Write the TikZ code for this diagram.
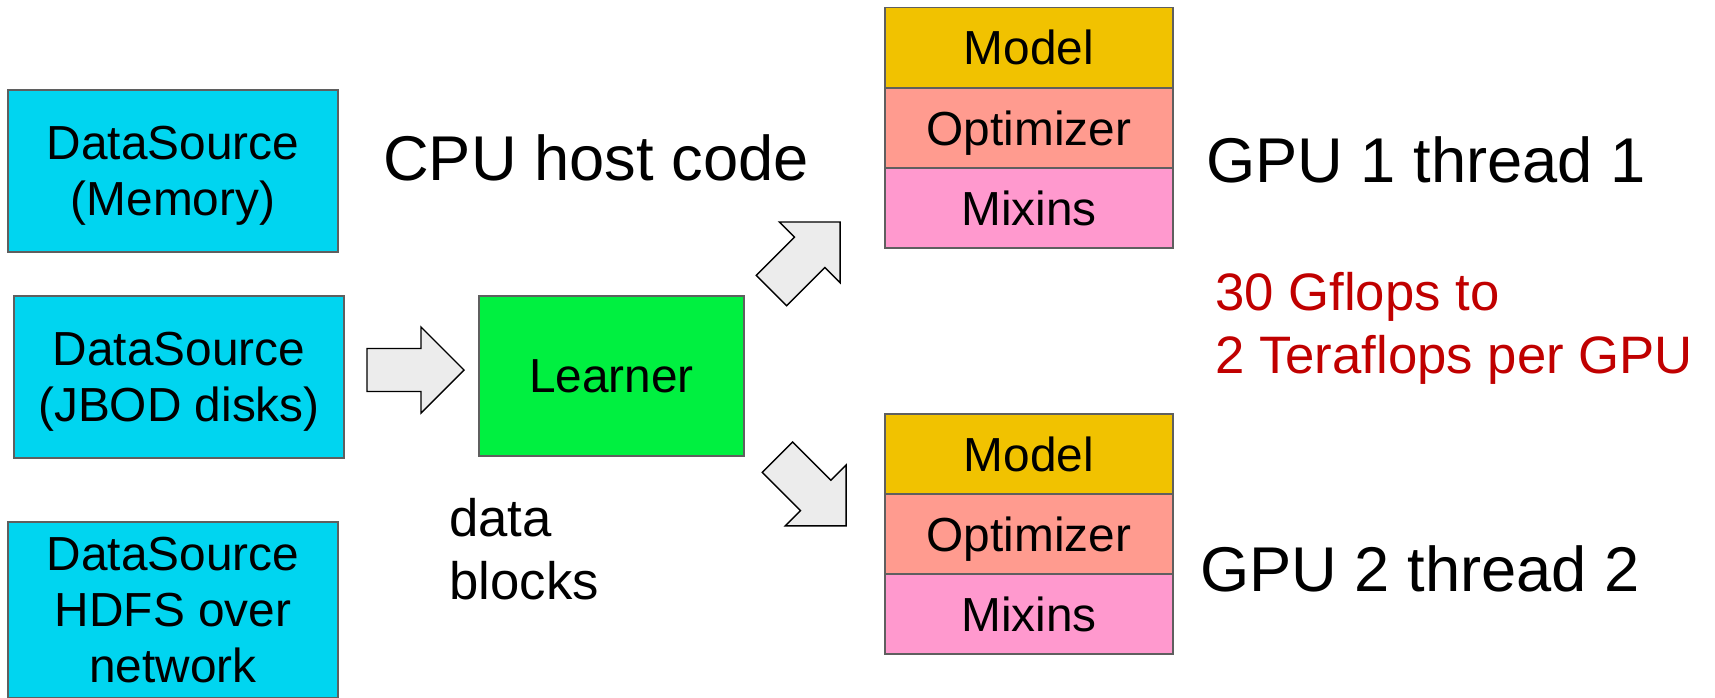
\documentclass[tikz,border=0pt]{standalone}
\usepackage{fontspec}
\setmainfont{Liberation Sans}

\definecolor{cian}{RGB}{0,213,240}
\definecolor{verde}{RGB}{0,240,64}
\definecolor{oro}{RGB}{241,194,0}
\definecolor{salmon}{RGB}{255,155,143}
\definecolor{rosa}{RGB}{255,153,206}
\definecolor{borde}{RGB}{95,95,95}
\definecolor{rojo}{RGB}{192,0,0}

\begin{document}
\begin{tikzpicture}[
    x=0.02cm, y=-0.02cm,
    caja/.style={draw=borde, line width=1pt, outer sep=0pt, align=center, font=\fontsize{27.2}{32}\selectfont},
    fuente/.style={caja, fill=cian, minimum width=6.6cm, minimum height=3.24cm, text depth=-1.5pt},
    capa/.style={caja, minimum width=5.76cm, minimum height=1.6cm},
    flecha/.style={draw=black, fill=gray!15, line width=0.8pt, line join=miter},
    grande/.style={inner sep=0pt, font=\fontsize{36}{42}\selectfont},
    nota/.style={inner sep=0pt, align=left, font=\fontsize{30}{35.5}\selectfont}
]
    \useasboundingbox (0,0) rectangle (1715,697);

    % Fuentes de datos a la izquierda
    \node[fuente] (mem) at (173,171) {DataSource\\(Memory)};
    \node[fuente] (jbod) at (179,377) {DataSource\\(JBOD disks)};
    \node[fuente, minimum height=3.52cm, text depth=0pt] (hdfs) at (173,610) {DataSource\\HDFS over\\network};

    % Learner en el centro
    \node[caja, fill=verde, minimum width=5.3cm, minimum height=3.2cm] (learner) at (611.5,376) {Learner};

    % Pila de la GPU 1
    \node[capa, fill=oro] (model1) at (1029,47.5) {Model};
    \node[capa, fill=salmon, text depth=0pt] (opt1) at (1029,128) {Optimizer};
    \node[capa, fill=rosa] (mix1) at (1029,208) {Mixins};

    % Pila de la GPU 2
    \node[capa, fill=oro] (model2) at (1029,454) {Model};
    \node[capa, fill=salmon, text depth=0pt] (opt2) at (1029,534) {Optimizer};
    \node[capa, fill=rosa] (mix2) at (1029,614) {Mixins};

    % Flechas gruesas
    \coordinate (f1) at (415.5,370);
    \coordinate (f2) at (805.75,256.25);
    \coordinate (f3) at (811.75,491.5);
    \draw[flecha, shift={(f1)}] (-48.5,-21.5) -- (5.5,-21.5) -- (5.5,-43) -- (48.5,0) -- (5.5,43) -- (5.5,21.5) -- (-48.5,21.5) -- cycle;
    \draw[flecha, shift={(f2)}, rotate=45] (-48.5,-21.5) -- (5.5,-21.5) -- (5.5,-43) -- (48.5,0) -- (5.5,43) -- (5.5,21.5) -- (-48.5,21.5) -- cycle;
    \draw[flecha, shift={(f3)}, rotate=-45] (-48.5,-21.5) -- (5.5,-21.5) -- (5.5,-43) -- (48.5,0) -- (5.5,43) -- (5.5,21.5) -- (-48.5,21.5) -- cycle;

    % Textos
    \node[grande, anchor=base] (cpu) at (596,180) {CPU host code};
    \node[grande, anchor=base] (gpu1) at (1426,182) {GPU 1 thread 1};
    \node[grande, anchor=base] (gpu2) at (1420,591) {GPU 2 thread 2};
    \node[nota, text=rojo, anchor=base west] (flops) at (1215,373) {30 Gflops to\\2 Teraflops per GPU};
    \node[nota, anchor=base west] (bloques) at (449,599) {data\\blocks};
\end{tikzpicture}
\end{document}
